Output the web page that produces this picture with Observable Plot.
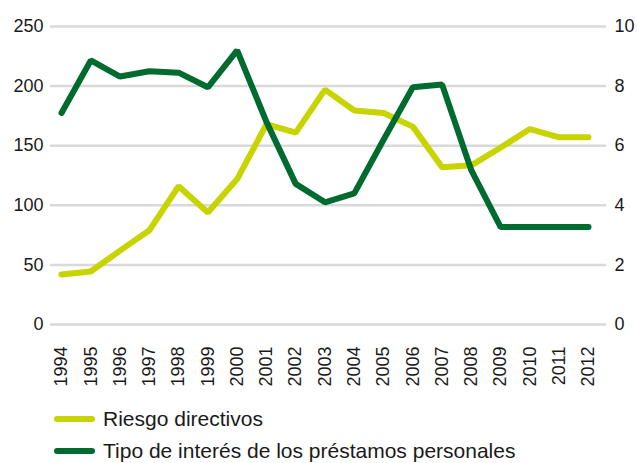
<!DOCTYPE html>
<html>
<head>
<meta charset="utf-8">
<script src="https://cdn.jsdelivr.net/npm/d3@7"></script>
<script src="https://cdn.jsdelivr.net/npm/@observablehq/plot@0.6"></script>
<style>
  html, body { margin: 0; padding: 0; background: #fff; }
  body { width: 637px; height: 463px; overflow: hidden; font-family: "Liberation Sans", Arial, sans-serif; }
  .legend { position: relative; height: 68px; font-size: 21px; color: #1a1a1a; }
  .row { position: absolute; left: 0; display: flex; align-items: center; }
  .sw { display: inline-block; width: 41px; height: 6px; border-radius: 3px; margin-left: 54px; margin-right: 8px; }
</style>
</head>
<body>
<div id="chart"></div>
<script>
const years = [1994,1995,1996,1997,1998,1999,2000,2001,2002,2003,2004,2005,2006,2007,2008,2009,2010,2011,2012];
const riesgoDirectivos = [42,44.5,62,79,116,94,122,168,161,197,179.5,177.5,166,132,133.5,148.5,164,157,157];
const tipoInteres = [7.1,8.86,8.32,8.5,8.45,7.96,9.2,6.8,4.72,4.1,4.4,6.2,7.96,8.05,5.17,3.27,3.27,3.27,3.27];
const leftTicks = [0,50,100,150,200,250];
const rightTicks = [0,2,4,6,8,10];
const seriesNames = ["Riesgo directivos", "Tipo de interés de los préstamos personales"];
const colors = ["#c8d400", "#006b2f"];

const ratio = 25; // 10 on right axis == 250 on left axis
const light = years.map((y, i) => ({year: y, v: riesgoDirectivos[i]}));
const dark = years.map((y, i) => ({year: y, v: tipoInteres[i] * ratio}));

const plot = Plot.plot({
  width: 637,
  height: 395,
  marginTop: 26,
  marginBottom: 71,
  marginLeft: 50,
  marginRight: 31,
  style: {fontFamily: "'Liberation Sans', Arial, sans-serif", fontSize: "18px", color: "#1a1a1a", background: "#fff"},
  x: {type: "linear", domain: [1994, 2012], insetLeft: 11, insetRight: 18},
  y: {domain: [0, 250]},
  marks: [
    Plot.ruleY(leftTicks, {stroke: "#d9d9d9", strokeWidth: 2.5}),
    Plot.axisY({ticks: leftTicks, tickSize: 0, tickPadding: 7, label: null, fontSize: 18}),
    Plot.axisY({anchor: "right", ticks: rightTicks.map(t => t * ratio), tickFormat: d => String(d / ratio), tickSize: 0, tickPadding: 8, label: null, fontSize: 18}),
    Plot.axisX({ticks: years, tickFormat: d => String(d), tickRotate: -90, tickSize: 0, tickPadding: 22, label: null, fontSize: 18}),
    Plot.line(light, {x: "year", y: "v", stroke: colors[0], strokeWidth: 6, strokeLinecap: "round", strokeLinejoin: "miter"}),
    Plot.line(dark, {x: "year", y: "v", stroke: colors[1], strokeWidth: 6, strokeLinecap: "round", strokeLinejoin: "miter"})
  ]
});
document.getElementById("chart").appendChild(plot);

const legend = document.createElement("div");
legend.className = "legend";
seriesNames.forEach((name, i) => {
  const row = document.createElement("div");
  row.className = "row";
  row.style.top = (i * 32 + 12) + "px";
  const sw = document.createElement("span");
  sw.className = "sw";
  sw.style.background = colors[i];
  const tx = document.createElement("span");
  tx.textContent = name;
  row.appendChild(sw);
  row.appendChild(tx);
  legend.appendChild(row);
});
document.body.appendChild(legend);
</script>
</body>
</html>
